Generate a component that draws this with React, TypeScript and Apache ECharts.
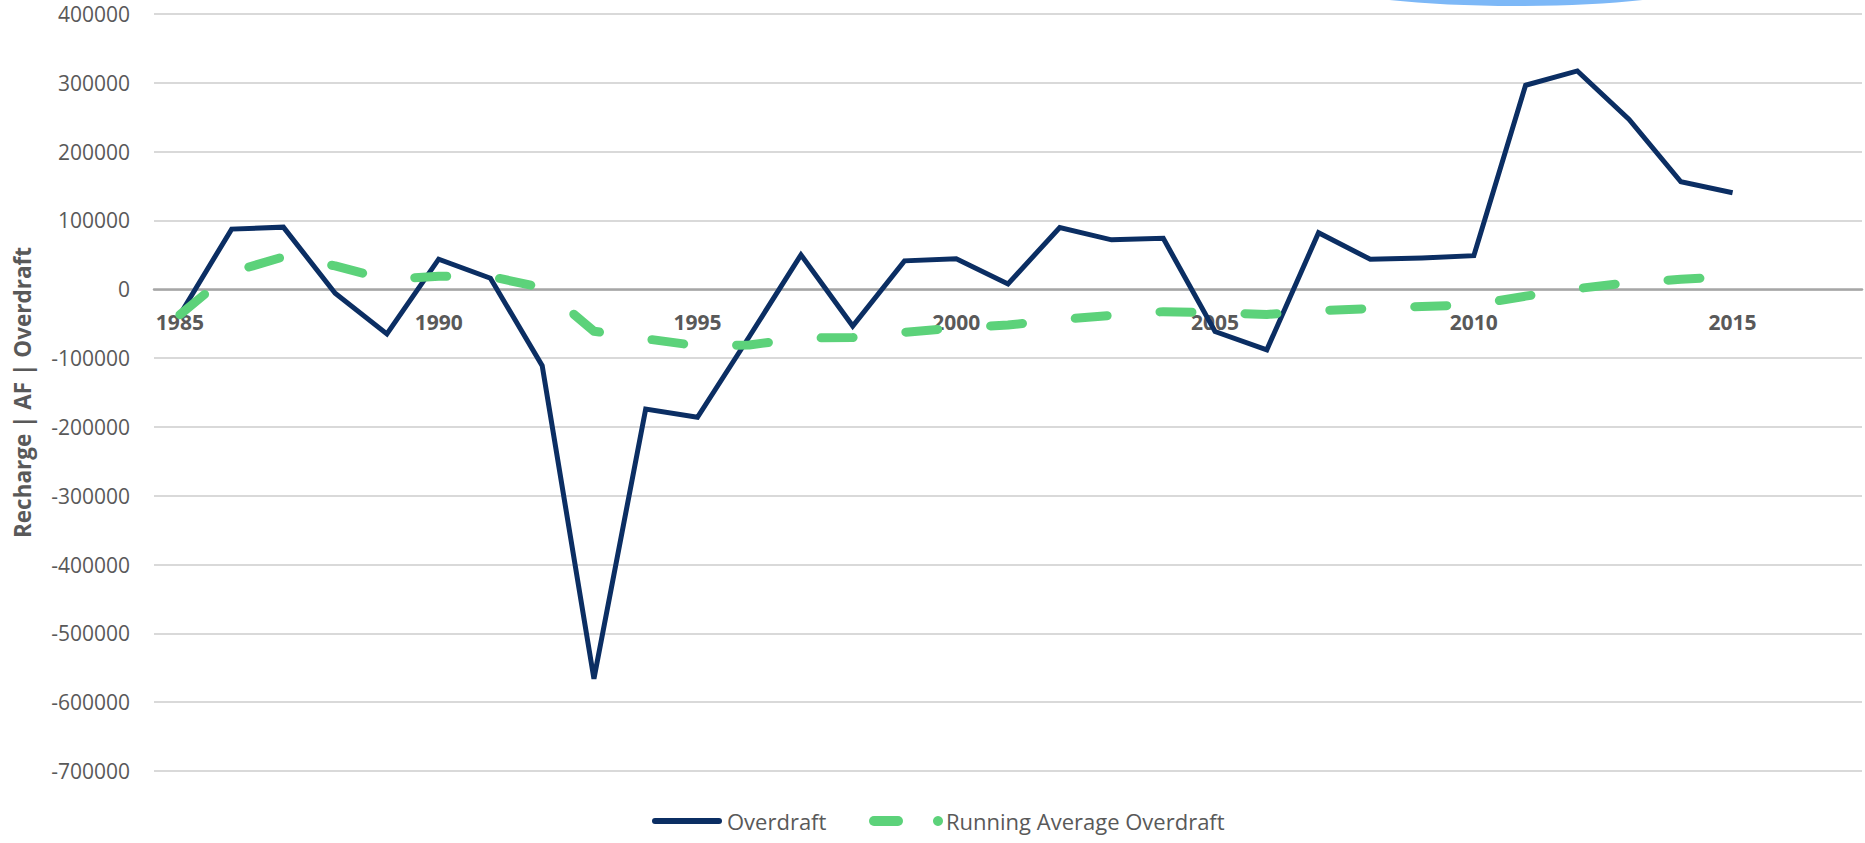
import React, { useEffect, useRef } from "react";
import * as echarts from "echarts";

const categories = [
  "1985", "1986", "1987", "1988", "1989", "1990", "1991", "1992", "1993", "1994",
  "1995", "1996", "1997", "1998", "1999", "2000", "2001", "2002", "2003", "2004",
  "2005", "2006", "2007", "2008", "2009", "2010", "2011", "2012", "2013", "2014",
  "2015", "2016", "2017",
];

const overdraft = [
  -37000, 87400, 90300, -5800, -65000, 43700, 16000, -111000, -566000, -174000,
  -186000, -69000, 50000, -53400, 41300, 44200, 7800, 89800, 71800, 74000,
  -61400, -88000, 82200, 43500, 45500, 48800, 296500, 317300, 246700, 156200,
  140300,
];

const runningAverage = [
  -37000, 25000, 47000, 34000, 14000, 19000, 18500, 2500, -61000, -72000,
  -82000, -81000, -71000, -70000, -62500, -56000, -52000, -44000, -38000, -32500,
  -34000, -36500, -31000, -28000, -25000, -22500, -10000, 1000, 9500, 14500,
  18500,
];

const seriesNames = ["Overdraft", "Running Average Overdraft"];
const yAxisTitle = "Recharge | AF | Overdraft";

const Y_MIN = -700000;
const Y_MAX = 400000;

const NAVY = "#0B2E63";
const GREEN = "#5CD27A";
const TEXT = "#595959";
const FONT = '"Open Sans", sans-serif';

const GRID_TOP = 14;
const GRID_BOTTOM = 72;
const H = 843;
const LEGEND_Y = 821;

export default function App() {
  const ref = useRef<HTMLDivElement>(null);

  useEffect(() => {
    if (!ref.current) return;
    const chart = echarts.init(ref.current, undefined, { renderer: "svg" });
    const plotH = H - GRID_TOP - GRID_BOTTOM;
    const zeroFromBottom = ((0 - Y_MIN) / (Y_MAX - Y_MIN)) * plotH;
    chart.setOption({
      animation: false,
      backgroundColor: "#ffffff",
      grid: { left: 154, right: 3, top: GRID_TOP, bottom: GRID_BOTTOM, containLabel: false },
      xAxis: {
        type: "category",
        data: categories,
        boundaryGap: true,
        offset: -zeroFromBottom,
        axisLine: { onZero: false, lineStyle: { color: "#A6A6A6", width: 2.5 } },
        axisTick: { show: false },
        splitLine: { show: false },
        axisLabel: {
          interval: 4,
          margin: 22,
          color: TEXT,
          fontFamily: FONT,
          fontWeight: "bold",
          fontSize: 21,
        },
      },
      yAxis: {
        type: "value",
        min: Y_MIN,
        max: Y_MAX,
        interval: 100000,
        name: yAxisTitle,
        nameLocation: "middle",
        nameGap: 120,
        nameRotate: 90,
        nameTextStyle: {
          color: TEXT,
          fontFamily: FONT,
          fontWeight: "bold",
          fontSize: 22.5,
        },
        axisLine: { show: false },
        axisTick: { show: false },
        splitLine: { lineStyle: { color: "#D9D9D9", width: 2 } },
        axisLabel: {
          margin: 24,
          color: TEXT,
          fontFamily: FONT,
          fontSize: 21,
          formatter: (v: number) => String(v),
        },
      },
      series: [
        {
          name: seriesNames[0],
          type: "line",
          data: overdraft,
          symbol: "none",
          lineStyle: { color: NAVY, width: 5, join: "miter" },
          itemStyle: { color: NAVY },
          z: 2,
        },
        {
          name: seriesNames[1],
          type: "line",
          data: runningAverage,
          symbol: "none",
          lineStyle: { color: GREEN, width: 9, type: [32, 53], cap: "round", join: "round" },
          itemStyle: { color: GREEN },
          z: 3,
        },
      ],
      graphic: [
        {
          type: "ellipse",
          shape: { cx: 1516, cy: -24, rx: 211, ry: 30 },
          style: { fill: "#7DB8F7" },
          silent: true,
        },
        {
          type: "line",
          shape: { x1: 655, y1: LEGEND_Y, x2: 719, y2: LEGEND_Y },
          style: { stroke: NAVY, lineWidth: 6, lineCap: "round" },
        },
        {
          type: "text",
          x: 727,
          y: LEGEND_Y,
          style: {
            text: seriesNames[0],
            fill: TEXT,
            font: `22px ${FONT}`,
            verticalAlign: "middle",
            align: "left",
          },
        },
        {
          type: "line",
          shape: { x1: 874, y1: LEGEND_Y, x2: 898, y2: LEGEND_Y },
          style: { stroke: GREEN, lineWidth: 10, lineCap: "round" },
        },
        {
          type: "circle",
          shape: { cx: 938, cy: LEGEND_Y, r: 5 },
          style: { fill: GREEN },
        },
        {
          type: "text",
          x: 946,
          y: LEGEND_Y,
          style: {
            text: seriesNames[1],
            fill: TEXT,
            font: `22px ${FONT}`,
            verticalAlign: "middle",
            align: "left",
          },
        },
      ],
    });
    return () => chart.dispose();
  }, []);

  return (
    <div
      ref={ref}
      style={{ position: "fixed", left: 0, top: 0, width: 1865, height: 843, background: "#fff" }}
    />
  );
}
